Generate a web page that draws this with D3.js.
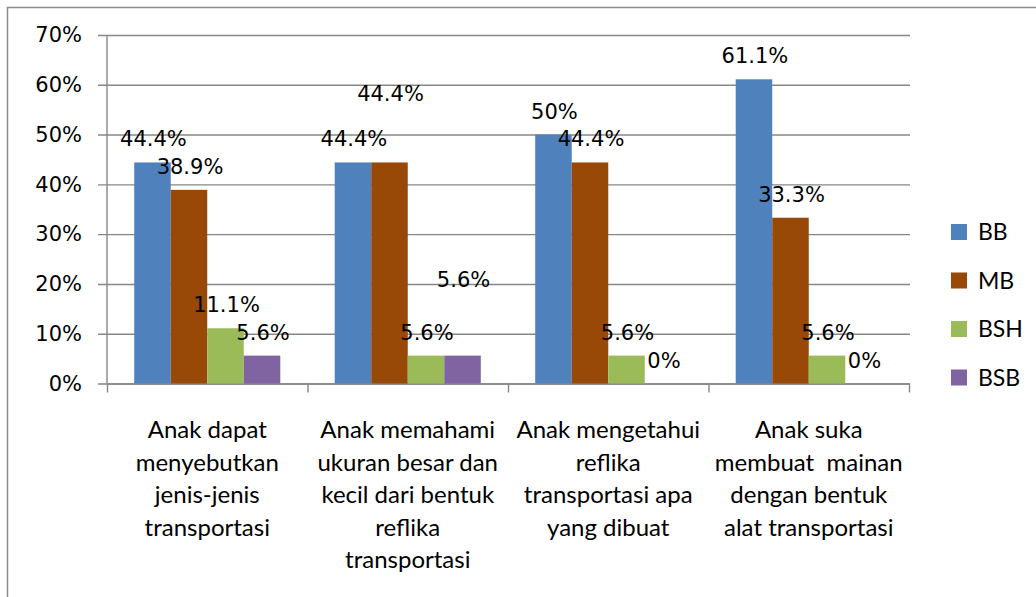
<!DOCTYPE html>
<html>
<head>
<meta charset="utf-8">
<script src="https://cdn.jsdelivr.net/npm/d3@7"></script>
<style>
  body { margin: 0; background: #fff; }
  svg { display: block; }
  text { white-space: pre; }
</style>
</head>
<body>
<svg id="chart" width="1036" height="597"></svg>
<script>
// data
var categories = [
    ['Anak dapat', 'menyebutkan', 'jenis-jenis', 'transportasi'],
    ['Anak memahami', 'ukuran besar dan', 'kecil dari bentuk', 'reflika', 'transportasi'],
    ['Anak mengetahui', 'reflika', 'transportasi apa', 'yang dibuat'],
    ['Anak suka', 'membuat  mainan', 'dengan bentuk', 'alat transportasi']
];
var seriesNames = ['BB', 'MB', 'BSH', 'BSB'];
var bb = [44.4, 44.4, 50, 61.1];
var mb = [38.9, 44.4, 44.4, 33.3];
var bsh = [11.1, 5.6, 5.6, 5.6];
var bsb = [5.6, 5.6, 0, 0];
// where each value label sits (in % units); two labels are displaced in the original
var bbLabelAt = [44.4, 44.4, 50, 61.1];
var mbLabelAt = [38.9, 53.6, 44.4, 33.3];
var bshLabelAt = [11.1, 5.6, 5.6, 5.6];
var bsbLabelAt = [5.6, 16.2, 0, 0];
var yTicks = [0, 10, 20, 30, 40, 50, 60, 70];
var colors = ['#4F81BD', '#984807', '#9BBB59', '#8064A2'];

( function () {

    var values = [bb, mb, bsh, bsb];
    var labelAt = [bbLabelAt, mbLabelAt, bshLabelAt, bsbLabelAt];

    var svg = d3.select('#chart');
    var left = 107, right = 909, top = 35, bottom = 383.5;
    var numFont = '"DejaVu Sans", sans-serif';
    var txtFont = 'Lato, "Open Sans", sans-serif';

    // outer frame (runs off the right and bottom of the picture)
    svg.append('rect')
        .attr('x', 7.5).attr('y', 7.5)
        .attr('width', 1200).attr('height', 800)
        .attr('fill', 'none')
        .attr('stroke', '#8a8a8a')
        .attr('stroke-width', 1.5);

    var yScale = d3.scaleLinear()
        .domain([0, 70])
        .range([bottom, top]);

    var x0 = d3.scaleBand()
        .domain(d3.range(categories.length))
        .range([left, right])
        .padding(0);

    var x1 = d3.scaleBand()
        .domain(seriesNames)
        .range([0, x0.bandwidth()])
        .paddingInner(0)
        .paddingOuter(0.745);

    // gridlines + y tick labels
    var yAxis = svg.append('g')
        .attr('transform', 'translate(98,0)')
        .call(d3.axisLeft(yScale)
            .tickValues(yTicks)
            .tickSizeInner(-(910 - 98))
            .tickSizeOuter(0)
            .tickPadding(16)
            .tickFormat(function (d) { return d + '%'; }));
    yAxis.select('.domain').remove();
    yAxis.selectAll('line').attr('stroke', '#878787').attr('stroke-width', 1.4);
    yAxis.selectAll('text')
        .attr('fill', '#000')
        .style('font-family', numFont)
        .style('font-size', '21px');

    // vertical axis line
    svg.append('line')
        .attr('x1', left).attr('x2', left)
        .attr('y1', top).attr('y2', bottom)
        .attr('stroke', '#878787').attr('stroke-width', 1.4);

    // x axis with ticks at category edges
    var xEdge = d3.scaleLinear().domain([0, categories.length]).range([left, right]);
    var xAxis = svg.append('g')
        .attr('transform', 'translate(0,' + bottom + ')')
        .call(d3.axisBottom(xEdge)
            .ticks(categories.length)
            .tickSizeInner(9)
            .tickSizeOuter(0)
            .tickFormat(''));
    xAxis.selectAll('line, path').attr('stroke', '#878787').attr('stroke-width', 1.4);

    // bars
    seriesNames.forEach(function (name, si) {
        var g = svg.append('g');
        g.selectAll('rect')
            .data(values[si])
            .enter()
            .append('rect')
            .attr('x', function (d, i) { return x0(i) + x1(name); })
            .attr('y', function (d) { return yScale(d); })
            .attr('width', x1.bandwidth())
            .attr('height', function (d) { return bottom - yScale(d); })
            .attr('fill', colors[si]);

        g.selectAll('text')
            .data(values[si])
            .enter()
            .append('text')
            .attr('x', function (d, i) { return x0(i) + x1(name) + x1.bandwidth() / 2 + 1; })
            .attr('y', function (d, i) { return yScale(labelAt[si][i]) - 16; })
            .attr('text-anchor', 'middle')
            .style('font-family', numFont)
            .style('font-size', '21px')
            .attr('fill', '#000')
            .text(function (d) { return d + '%'; });
    });

    // category labels
    categories.forEach(function (lines, i) {
        var t = svg.append('text')
            .attr('text-anchor', 'middle')
            .style('font-family', txtFont)
            .style('font-size', '24px')
            .attr('fill', '#000');
        lines.forEach(function (line, j) {
            t.append('tspan')
                .attr('x', x0(i) + x0.bandwidth() / 2)
                .attr('y', 438 + j * 32.5)
                .text(line);
        });
    });

    // legend
    var legend = svg.append('g').attr('transform', 'translate(951,224)');
    seriesNames.forEach(function (name, i) {
        var row = legend.append('g').attr('transform', 'translate(0,' + (i * 48.5) + ')');
        row.append('rect')
            .attr('width', 16).attr('height', 16)
            .attr('fill', colors[i]);
        row.append('text')
            .attr('x', 27).attr('y', 16)
            .style('font-family', txtFont)
            .style('font-size', '23px')
            .attr('fill', '#000')
            .text(name);
    });

})();
</script>
</body>
</html>
